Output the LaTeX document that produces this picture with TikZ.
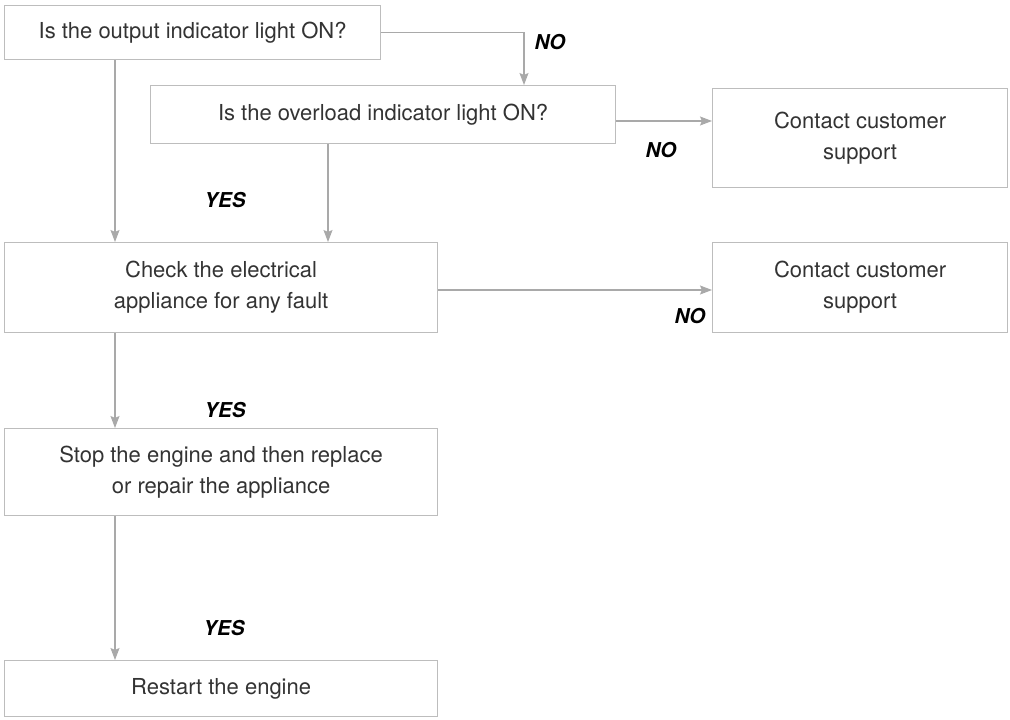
\documentclass[tikz,border=0pt]{standalone}
\usepackage{fontspec}
\setmainfont{TeX Gyre Heros}
\usetikzlibrary{arrows.meta}

\definecolor{boxgray}{HTML}{BDBDBD}
\definecolor{arrowgray}{HTML}{A9A9A9}
\definecolor{textgray}{HTML}{333333}

\begin{document}
\begin{tikzpicture}[x=1pt, y=-1pt,
    box/.style={draw=boxgray, line width=1.2pt, text=textgray, align=center,
        inner sep=0pt, anchor=north west, font=\fontsize{22}{31}\selectfont},
    flow/.style={draw=arrowgray, line width=1.2pt,
        -{Stealth[length=12pt, width=9pt, inset=2pt, fill=arrowgray]}},
    answer/.style={font=\fontsize{20.5}{24}\selectfont\bfseries\itshape, text=black}]
    \useasboundingbox (0,0) rectangle (1010,720);

    % Boxes
    \node[box, minimum width=376pt, minimum height=54pt] (outq) at (4,5) {Is the output indicator light ON?};
    \node[box, minimum width=465pt, minimum height=58pt] (ovlq) at (150,85) {Is the overload indicator light ON?};
    \node[box, minimum width=295pt, minimum height=99pt] (supA) at (712,88) {Contact customer\\support};
    \node[box, minimum width=433pt, minimum height=90pt] (check) at (4,242) {Check the electrical\\appliance for any fault};
    \node[box, minimum width=295pt, minimum height=90pt] (supB) at (712,242) {Contact customer\\support};
    \node[box, minimum width=433pt, minimum height=87pt] (repair) at (4,428) {Stop the engine and then replace\\or repair the appliance};
    \node[box, minimum width=433pt, minimum height=56pt] (restart) at (4,660) {Restart the engine};

    % Connector lines
    \coordinate (spine) at (115,0);
    \coordinate (mid) at (328,0);
    \coordinate (drop) at (524,0);
    \coordinate (hop) at (0,121);
    \coordinate (hopB) at (0,290);

    \draw[flow] (outq.east) -| (ovlq.north -| drop);
    \draw[flow] (ovlq.east |- hop) -- (supA.west |- hop);
    \draw[flow] (outq.south -| spine) -- (check.north -| spine);
    \draw[flow] (ovlq.south -| mid) -- (check.north -| mid);
    \draw[flow] (check.east |- hopB) -- (supB.west |- hopB);
    \draw[flow] (check.south -| spine) -- (repair.north -| spine);
    \draw[flow] (repair.south -| spine) -- (restart.north -| spine);

    % Answers
    \node[answer] (no1) at (550,42) {NO};
    \node[answer] (no2) at (661,150) {NO};
    \node[answer] (no3) at (690,316) {NO};
    \node[answer] (yes1) at (225,200) {YES};
    \node[answer] (yes2) at (225,410) {YES};
    \node[answer] (yes3) at (224,628) {YES};
\end{tikzpicture}
\end{document}
